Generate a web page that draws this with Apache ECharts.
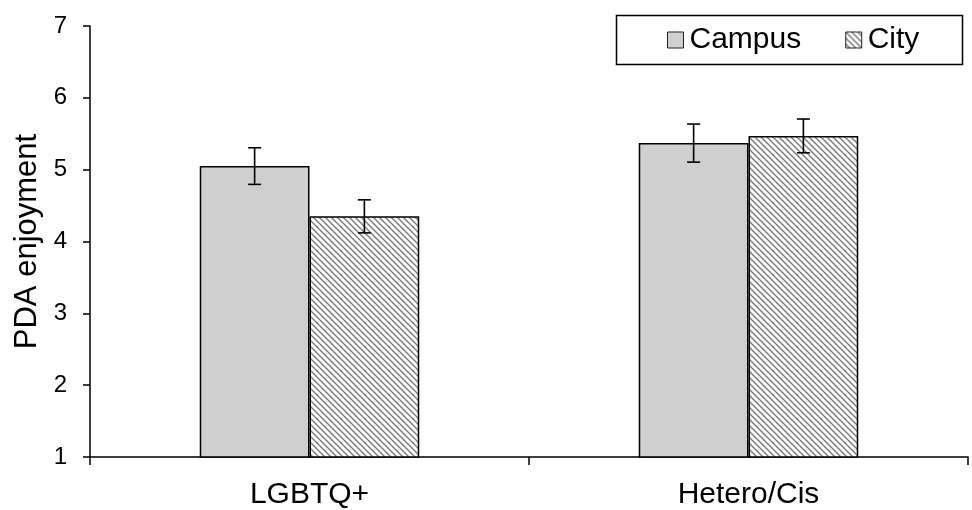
<!DOCTYPE html>
<html>
<head>
<meta charset="utf-8">
<script src="https://cdn.jsdelivr.net/npm/echarts@6/dist/echarts.min.js"></script>
<style>html,body{margin:0;padding:0;background:#fff}#c{width:972px;height:510px}</style>
</head>
<body>
<div id="c"></div>
<script>
const categories = ['LGBTQ+', 'Hetero/Cis'];
const seriesNames = ['Campus', 'City'];
const campusValues = [5.05, 5.37];
const cityValues = [4.35, 5.47];
const campusErrors = [0.255, 0.265];
const cityErrors = [0.23, 0.235];
const yTicks = [1, 2, 3, 4, 5, 6, 7];

function makeHatch() {
  const s = 6;
  const cv = document.createElement('canvas');
  cv.width = s; cv.height = s;
  const ctx = cv.getContext('2d');
  ctx.fillStyle = '#ffffff';
  ctx.fillRect(0, 0, s, s);
  ctx.strokeStyle = '#7a7a7a';
  ctx.lineWidth = 1.4;
  ctx.beginPath();
  ctx.moveTo(-1, -1); ctx.lineTo(s + 1, s + 1);
  ctx.moveTo(-1, s - 1); ctx.lineTo(1, s + 1);
  ctx.moveTo(s - 1, -1); ctx.lineTo(s + 1, 1);
  ctx.stroke();
  return cv;
}
const hatch = { image: makeHatch(), repeat: 'repeat' };

const chart = echarts.init(document.getElementById('c'), null, { renderer: 'canvas' });
const FONT = 'Liberation Sans, Arial, sans-serif';

function errSeries(values, errors, side) {
  return {
    type: 'custom',
    silent: true,
    z: 10,
    data: values.map((v, i) => [i, v, errors[i]]),
    renderItem: function (params, api) {
      const i = api.value(0), v = api.value(1), e = api.value(2);
      const band = api.size([1, 0])[0];
      const off = side * band / 8;
      const top = api.coord([i, v + e]);
      const bot = api.coord([i, v - e]);
      const x = top[0] + off;
      const cap = 6.5;
      const st = { stroke: '#000', lineWidth: 1.6 };
      return {
        type: 'group',
        children: [
          { type: 'line', shape: { x1: x, y1: top[1], x2: x, y2: bot[1] }, style: st },
          { type: 'line', shape: { x1: x - cap, y1: top[1], x2: x + cap, y2: top[1] }, style: st },
          { type: 'line', shape: { x1: x - cap, y1: bot[1], x2: x + cap, y2: bot[1] }, style: st }
        ]
      };
    }
  };
}

chart.setOption({
  animation: false,
  backgroundColor: '#fff',
  grid: { left: 90, right: 4, top: 26, bottom: 50, containLabel: false },
  legend: {
    data: seriesNames.map(n => ({ name: n, icon: 'rect' })),
    left: 662,
    top: 20,
    itemWidth: 16,
    itemHeight: 16,
    itemGap: 44,
    textStyle: { fontFamily: FONT, fontSize: 30, color: '#000', padding: [0, 0, 0, 1] },
    itemStyle: { borderColor: '#222', borderWidth: 1 }
  },
  graphic: [{
    type: 'rect',
    left: 614, top: 13,
    shape: { width: 346, height: 49 },
    style: { fill: 'none', stroke: '#000', lineWidth: 1.5 },
    z: 100
  }],
  xAxis: {
    type: 'category',
    data: categories,
    axisLine: { lineStyle: { color: '#000', width: 1.5 } },
    axisTick: { show: true, alignWithLabel: false, length: 8, lineStyle: { color: '#000', width: 1.5 } },
    axisLabel: { fontFamily: FONT, fontSize: 30, color: '#000', margin: 23 }
  },
  yAxis: {
    type: 'value',
    min: yTicks[0],
    max: yTicks[yTicks.length - 1],
    interval: 1,
    name: 'PDA enjoyment',
    nameLocation: 'middle',
    nameGap: 43,
    nameTextStyle: { fontFamily: FONT, fontSize: 31, color: '#000' },
    axisLine: { show: true, lineStyle: { color: '#000', width: 1.5 } },
    axisTick: { show: true, length: 7, lineStyle: { color: '#000', width: 1.5 } },
    axisLabel: { fontFamily: FONT, fontSize: 24, color: '#000', margin: 23 },
    splitLine: { show: false }
  },
  series: [
    {
      name: seriesNames[0], type: 'bar', data: campusValues,
      barGap: '0%', barCategoryGap: '50%',
      itemStyle: { color: '#d0cfcf', borderColor: '#000', borderWidth: 1.5 }
    },
    {
      name: seriesNames[1], type: 'bar', data: cityValues,
      barGap: '0%', barCategoryGap: '50%',
      itemStyle: { color: hatch, borderColor: '#000', borderWidth: 1.5 }
    },
    errSeries(campusValues, campusErrors, -1),
    errSeries(cityValues, cityErrors, 1)
  ]
});
</script>
</body>
</html>
